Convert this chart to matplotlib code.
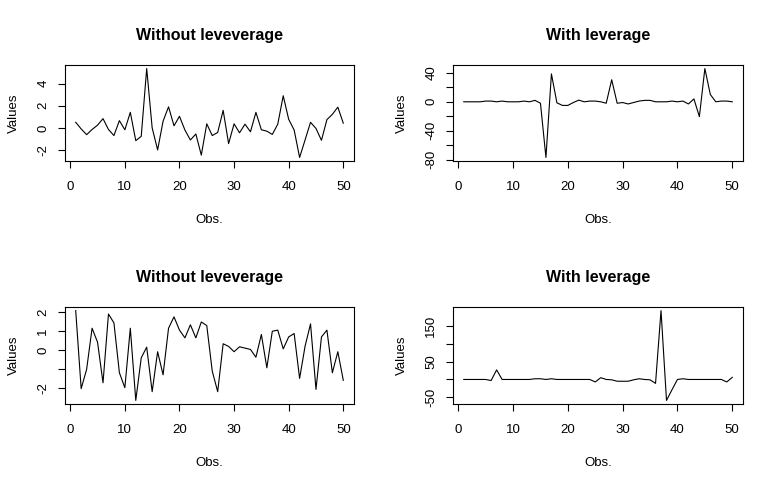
import numpy as np
import matplotlib
matplotlib.use("Agg")
import matplotlib.pyplot as plt

plt.rcParams['font.family'] = ['Liberation Sans', 'DejaVu Sans']

obs = np.arange(1, 51)

# top-left: without leverage
vals_tl = [0.5, -0.1, -0.62, -0.15, 0.24, 0.83, -0.15, -0.7, 0.65, -0.18,
           1.4, -1.16, -0.77, 5.36, 0.0, -2.0, 0.6, 1.9, 0.18, 1.04,
           -0.2, -1.1, -0.56, -2.47, 0.36, -0.7, -0.42, 1.58, -1.43, 0.36,
           -0.45, 0.33, -0.36, 1.4, -0.18, -0.3, -0.6, 0.33, 2.9, 0.77,
           -0.2, -2.68, -1.1, 0.5, -0.06, -1.13, 0.74, 1.22, 1.87, 0.42]

# top-right: with leverage
vals_tr = [0, 0, 0, 0, 1, 1, 0, 1, 0, 0,
           0, 1, 0, 2, -2, -77, 38.6, -1.4, -5, -5,
           -1, 2.3, 0, 1, 1, 0, -2, 30.5, -2, -1,
           -3, -1, 1, 2, 2, 0, 0, 0, 1, 0,
           1, -3, 4, -20.5, 46, 10, 0, 1, 1, 0]

# bottom-left: without leverage
vals_bl = [2.07, -2.05, -1.03, 1.14, 0.4, -1.74, 1.89, 1.42, -1.21, -2.0,
           1.14, -2.67, -0.42, 0.14, -2.21, -0.1, -1.32, 1.14, 1.74, 1.04,
           0.63, 1.32, 0.63, 1.47, 1.28, -1.12, -2.21, 0.32, 0.18, -0.1,
           0.16, 0.09, 0.02, -0.39, 0.81, -0.95, 0.98, 1.04, 0.05, 0.68,
           0.86, -1.51, 0.19, 1.37, -2.09, 0.68, 1.04, -1.21, -0.1, -1.61]

# bottom-right: with leverage
vals_br = [0, 0, 0, 0, 0, -3, 27, 0, 0, 0,
           0, 0, 0, 2, 2, 0, 2, 0, 0, 0,
           0, 0, 0, 0, -7, 5, 0, -1, -5, -5,
           -5, -1, 2, 0, -1, -11, 194, -59, -29, 0,
           2, 0, 0, 0, 0, 0, 0, 0, -7, 6]

panels = [
    ("Without leveverage", vals_tl, [-2, 0, 2, 4], ['-2', '0', '2', '4']),
    ("With leverage", vals_tr, [-80, -60, -40, -20, 0, 20, 40],
     ['-80', '', '-40', '', '0', '', '40']),
    ("Without leveverage", vals_bl, [-2, -1, 0, 1, 2], ['-2', '', '0', '1', '2']),
    ("With leverage", vals_br, [-50, 0, 50, 100, 150], ['-50', '', '50', '', '150']),
]

W, H = 776, 486
# panel boxes in pixels: left, top, right, bottom
boxes = [(65, 65, 354, 161), (453, 65, 743, 161),
         (65, 307, 354, 404), (453, 307, 743, 404)]

fig = plt.figure(figsize=(W / 100, H / 100), dpi=100, facecolor='white')

for (title, vals, yt, ylab), (l, t, r, b) in zip(panels, boxes):
    ax = fig.add_axes([l / W, (H - b) / H, (r - l) / W, (b - t) / H])
    ax.plot(obs, vals, color='black', linewidth=0.8)
    ax.margins(x=0.04, y=0.04)
    ax.set_xticks([0, 10, 20, 30, 40, 50])
    ax.set_yticks(yt)
    ax.set_yticklabels(ylab, rotation=90, va='center')
    for s in ax.spines.values():
        s.set_linewidth(0.8)
    ax.tick_params(direction='out', length=5.2, width=0.8, labelsize=9.5, pad=9.5)
    ax.tick_params(axis='y', pad=6)
    ax.set_title(title, fontsize=11.5, fontweight='bold', pad=18)
    ax.set_xlabel("Obs.", fontsize=9.5, labelpad=14.5)
    ax.set_ylabel("Values", fontsize=9.5, labelpad=12.5)

fig.savefig("out.png", dpi=100, facecolor='white')
